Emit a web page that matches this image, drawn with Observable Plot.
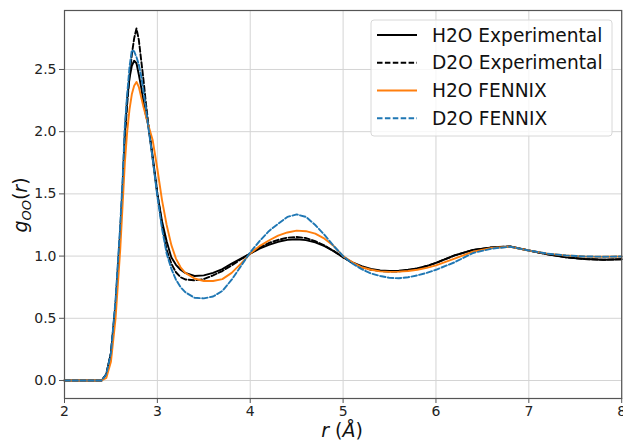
<!DOCTYPE html>
<html>
<head>
<meta charset="utf-8">
<script src="https://cdn.jsdelivr.net/npm/d3@7"></script>
<script src="https://cdn.jsdelivr.net/npm/@observablehq/plot@0.6"></script>
<style>
  html, body { margin: 0; padding: 0; background: #fff; }
  #chart { width: 623px; height: 443px; }
</style>
</head>
<body>
<div id="chart"></div>
<script>
// r grid (Å)
const r = [2.0, 2.4, 2.45, 2.5, 2.55, 2.6,
  2.625, 2.65, 2.675, 2.7, 2.725, 2.75, 2.775, 2.8, 2.825, 2.85, 2.875, 2.9,
  2.95, 3.0, 3.05, 3.1, 3.15, 3.2, 3.25, 3.3,
  3.4, 3.5, 3.6, 3.7, 3.8, 3.9, 4.0, 4.1, 4.2, 4.3, 4.4, 4.5, 4.6, 4.7, 4.8, 4.9,
  5.0, 5.1, 5.2, 5.3, 5.4, 5.5, 5.6, 5.7, 5.8, 5.9,
  6.0, 6.2, 6.4, 6.6, 6.8, 7.0, 7.2, 7.4, 7.6, 7.8, 8.0];

const h2oExp = [0, 0, 0.05, 0.22, 0.62, 1.2,
  1.55, 2.0, 2.27, 2.43, 2.53, 2.57, 2.55, 2.46, 2.36, 2.24, 2.14, 2.06,
  1.8, 1.5, 1.28, 1.12, 0.99, 0.93, 0.89, 0.865,
  0.84, 0.845, 0.865, 0.895, 0.94, 0.98, 1.02, 1.06, 1.09, 1.115, 1.13, 1.135, 1.128, 1.11, 1.08, 1.04,
  0.99, 0.95, 0.92, 0.897, 0.885, 0.88, 0.882, 0.89, 0.90, 0.92,
  0.945, 1.005, 1.05, 1.07, 1.077, 1.045, 1.015, 0.99, 0.977, 0.97, 0.975];

const d2oExp = [0, 0, 0.05, 0.22, 0.6, 1.18,
  1.52, 1.95, 2.22, 2.45, 2.62, 2.75, 2.83, 2.74, 2.58, 2.42, 2.24, 2.08,
  1.78, 1.5, 1.25, 1.05, 0.94, 0.87, 0.83, 0.812,
  0.805, 0.815, 0.845, 0.88, 0.925, 0.975, 1.02, 1.07, 1.105, 1.13, 1.148, 1.153, 1.145, 1.12, 1.085, 1.04,
  0.99, 0.945, 0.91, 0.89, 0.88, 0.875, 0.877, 0.885, 0.90, 0.92,
  0.945, 1.005, 1.05, 1.07, 1.077, 1.045, 1.015, 0.99, 0.977, 0.97, 0.975];

const h2oFennix = [0, 0, 0.02, 0.15, 0.5, 1.05,
  1.4, 1.75, 2.0, 2.18, 2.3, 2.37, 2.40, 2.36, 2.28, 2.2, 2.13, 2.06,
  1.93, 1.7, 1.45, 1.25, 1.09, 0.98, 0.91, 0.865,
  0.82, 0.80, 0.80, 0.815, 0.865, 0.94, 1.02, 1.08, 1.125, 1.165, 1.19, 1.205, 1.2, 1.18, 1.14, 1.08,
  1.0, 0.95, 0.91, 0.89, 0.877, 0.873, 0.875, 0.88, 0.89, 0.905,
  0.925, 0.98, 1.035, 1.065, 1.075, 1.045, 1.02, 1.005, 0.997, 0.995, 0.997];

const d2oFennix = [0, 0, 0.05, 0.22, 0.65, 1.25,
  1.6, 2.05, 2.3, 2.52, 2.655, 2.645, 2.6, 2.54, 2.45, 2.33, 2.2, 2.05,
  1.78, 1.48, 1.22, 1.02, 0.9, 0.81, 0.75, 0.71,
  0.665, 0.66, 0.675, 0.72, 0.81, 0.92, 1.03, 1.12, 1.2, 1.26, 1.315, 1.335, 1.315, 1.25, 1.17, 1.08,
  1.0, 0.94, 0.895, 0.86, 0.84, 0.825, 0.822, 0.83, 0.845, 0.865,
  0.89, 0.95, 1.025, 1.06, 1.075, 1.045, 1.02, 1.005, 0.997, 0.995, 0.997];

const seriesNames = ["H2O Experimental", "D2O Experimental", "H2O FENNIX", "D2O FENNIX"];
const seriesColors = ["#000000", "#000000", "#ff7f0e", "#1f77b4"];
const seriesDash = [null, "5.5,2.4", null, "5.5,2.4"];
const seriesValues = [h2oExp, d2oExp, h2oFennix, d2oFennix];

const xTicks = [2, 3, 4, 5, 6, 7, 8];
const yTicks = [0, 0.5, 1.0, 1.5, 2.0, 2.5];

const series = seriesNames.map((name, k) => ({
  name, color: seriesColors[k], dash: seriesDash[k],
  data: r.map((x, i) => ({ r: x, g: seriesValues[k][i] }))
}));

const font = "DejaVu Sans, Verdana, sans-serif";

const chart = Plot.plot({
  width: 623,
  height: 443,
  marginLeft: 64,
  marginRight: 1.8,
  marginTop: 10,
  marginBottom: 45,
  style: { fontFamily: font, fontSize: "14px", color: "#222", background: "#fff" },
  x: { domain: [2, 8], ticks: xTicks },
  y: { domain: [-0.1447, 2.974], ticks: yTicks },
  marks: [
    Plot.gridX(xTicks, { stroke: "#d4d4d4", strokeOpacity: 1, strokeWidth: 1 }),
    Plot.gridY(yTicks, { stroke: "#d4d4d4", strokeOpacity: 1, strokeWidth: 1 }),
    ...series.map(s => Plot.line(s.data, {
      x: "r", y: "g", stroke: s.color, strokeWidth: 1.9,
      strokeDasharray: s.dash || undefined, curve: "linear"
    })),
    Plot.frame({ stroke: "#555", strokeWidth: 1.2 }),
    Plot.axisX(xTicks, { tickSize: 5, tickPadding: 3, label: null, tickFormat: d => String(d), fontSize: 14, stroke: "#555" }),
    Plot.axisY(yTicks, { tickSize: 5, tickPadding: 3, label: null, tickFormat: d3.format(".1f"), fontSize: 14, stroke: "#555" })
  ]
});

document.getElementById("chart").appendChild(chart);

const svg = d3.select(chart);

// x axis label
const xl = svg.append("text")
  .attr("x", 342).attr("y", 437)
  .attr("text-anchor", "middle")
  .style("font-family", font).style("font-size", "19px").attr("fill", "#111");
xl.append("tspan").style("font-style", "italic").text("r");
xl.append("tspan").text(" (");
xl.append("tspan").style("font-style", "italic").text("Å");
xl.append("tspan").text(")");

// y axis label
const yl = svg.append("text")
  .attr("transform", "translate(27,205) rotate(-90)")
  .attr("text-anchor", "middle")
  .style("font-family", font).style("font-size", "19px").attr("fill", "#111");
yl.append("tspan").style("font-style", "italic").text("g");
yl.append("tspan").attr("dy", "4").style("font-size", "13px").style("font-style", "italic").text("OO");
yl.append("tspan").attr("dy", "-4").text("(");
yl.append("tspan").style("font-style", "italic").text("r");
yl.append("tspan").text(")");

// legend
const lg = svg.append("g");
lg.append("rect")
  .attr("x", 371).attr("y", 20).attr("width", 241).attr("height", 116)
  .attr("rx", 3).attr("fill", "#fff").attr("fill-opacity", 0.8)
  .attr("stroke", "#d8d8d8").attr("stroke-width", 1);
const rowY = [35, 62.7, 90.5, 118.2];
series.forEach((s, i) => {
  lg.append("line")
    .attr("x1", 377).attr("x2", 417).attr("y1", rowY[i]).attr("y2", rowY[i])
    .attr("stroke", s.color).attr("stroke-width", 1.9)
    .attr("stroke-dasharray", s.dash);
  lg.append("text")
    .attr("x", 432).attr("y", rowY[i]).attr("dy", "0.35em")
    .attr("text-anchor", "start")
    .style("font-family", font).style("font-size", "18.6px").attr("fill", "#111")
    .text(s.name);
});
</script>
</body>
</html>
